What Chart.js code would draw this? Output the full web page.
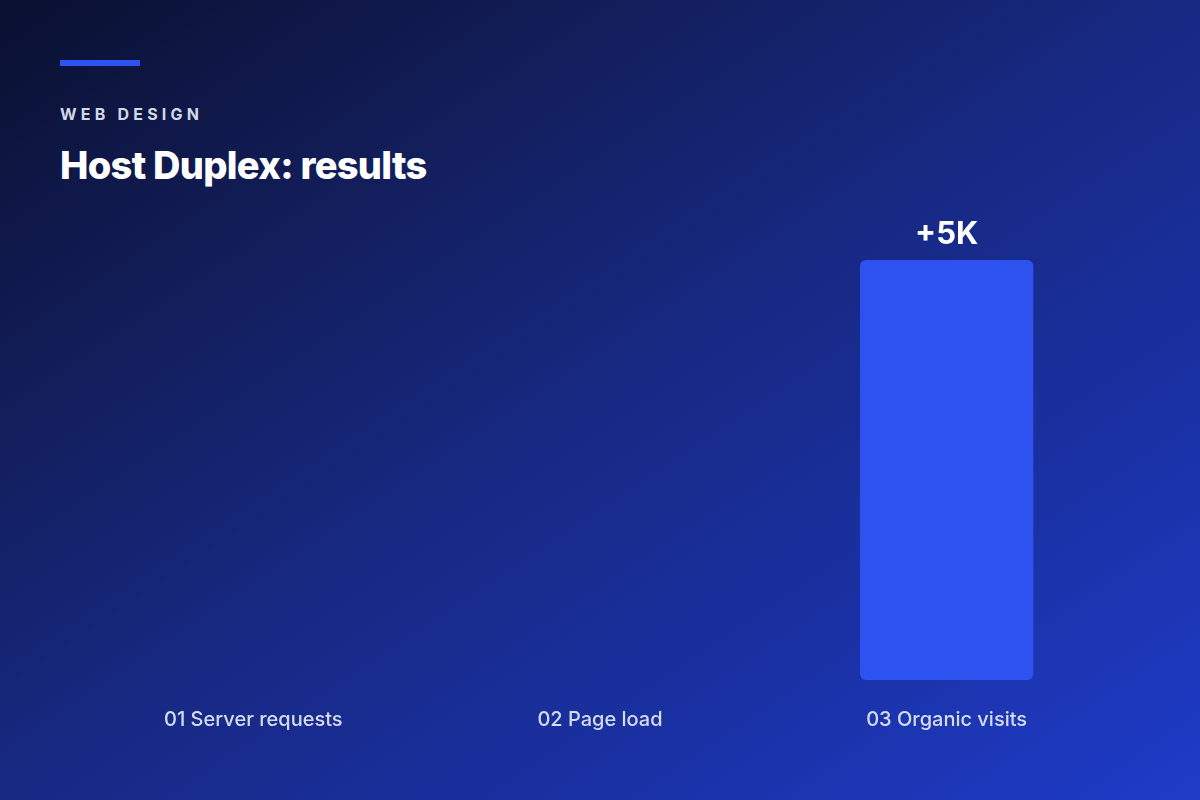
<!DOCTYPE html>
<html>
<head>
<meta charset="utf-8">
<script src="https://cdn.jsdelivr.net/npm/chart.js@4.4.0/dist/chart.umd.min.js"></script>
<style>
  html, body { margin: 0; padding: 0; }
  body {
    width: 1200px; height: 800px; overflow: hidden; position: relative;
    background: linear-gradient(to bottom right, #0a1030 0%, #121d58 25%, #172983 50%, #1a31a5 75%, #1f3cc8 100%);
    font-family: Inter, "Noto Sans", sans-serif;
  }
  .accent { position: absolute; left: 60px; top: 60px; width: 80px; height: 6px; background: #2d52f0; }
  .kicker { position: absolute; left: 60px; top: 104px; font-size: 16px; font-weight: 700; letter-spacing: 4.2px; color: #d3d8e6; }
  .title { position: absolute; left: 60px; top: 142px; font-size: 38px; font-weight: 800; letter-spacing: -0.7px; color: #ffffff; }
  #chartBox { position: absolute; left: 0; top: 0; width: 1200px; height: 800px; }
</style>
</head>
<body>
<div class="accent"></div>
<div class="kicker">WEB DESIGN</div>
<div class="title">Host Duplex: results</div>
<div id="chartBox"><canvas id="grafico"></canvas></div>
<script>
// dados do gráfico
const categorias = ['01 Server requests', '02 Page load', '03 Organic visits'];
const valores = [null, null, 5]; // em milhares
const rotulos = ['', '', '+5K'];

// escreve o rótulo em cima da barra
const rotuloBarra = {
    id: 'rotuloBarra',
    afterDatasetsDraw(chart) {
        const ctx = chart.ctx;
        const meta = chart.getDatasetMeta(0);
        ctx.save();
        ctx.fillStyle = '#ffffff';
        ctx.font = '700 31px Inter';
        ctx.textAlign = 'center';
        ctx.textBaseline = 'alphabetic';
        meta.data.forEach(function(barra, i) {
            if (valores[i] === null || !rotulos[i]) return;
            ctx.fillText(rotulos[i], barra.x, barra.y - 16);
        });
        ctx.restore();
    }
};

const ctx = document.getElementById('grafico').getContext('2d');
const grafico = new Chart(ctx, {
    type: 'bar',
    data: {
        labels: categorias,
        datasets: [{
            data: valores,
            backgroundColor: '#2d52f0',
            borderRadius: 6,
            borderSkipped: false,
            barPercentage: 0.5,
            categoryPercentage: 1
        }]
    },
    options: {
        responsive: true,
        maintainAspectRatio: false,
        animation: false,
        layout: { padding: { left: 80, right: 80, top: 260, bottom: 40 } },
        plugins: {
            legend: { display: false },
            tooltip: { enabled: false }
        },
        scales: {
            x: {
                grid: { display: false, drawTicks: false },
                border: { display: false },
                ticks: {
                    color: '#d6dcf0',
                    font: { family: 'Inter', size: 20, weight: '500' },
                    padding: 28
                }
            },
            y: {
                display: false,
                min: 0,
                max: 5
            }
        }
    },
    plugins: [rotuloBarra]
});
</script>
</body>
</html>
